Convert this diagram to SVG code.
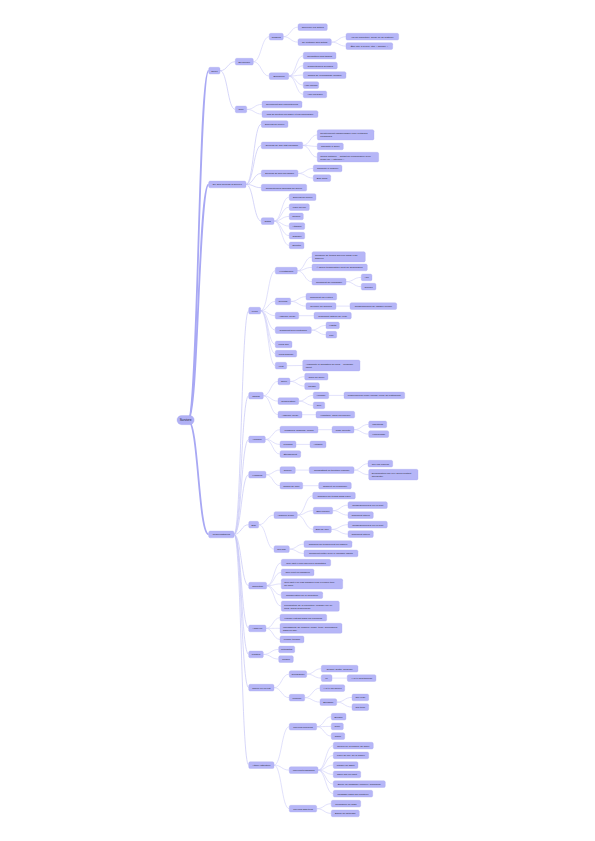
<svg xmlns="http://www.w3.org/2000/svg" width="595" height="841" viewBox="0 0 595 841">
<style>
.n rect{fill:#b6b6f7;stroke:#a2a2ee;stroke-width:.3}
.n text{font-family:"Liberation Sans",Arial,sans-serif;font-size:2.5px;fill:#1e1e2e;text-anchor:middle}
.n text.m{text-anchor:start}
#root rect{fill:#b0b0f5}
#root text{font-size:3.2px}
.l path{fill:none;stroke:#cdcdf8;stroke-width:.6}
.l path.t0{stroke:#a8a8f4;stroke-width:1.8}
.l path.t1{stroke:#c6c6f7;stroke-width:.7}
</style>
<rect width="595" height="841" fill="#ffffff"/>
<g id="connectors" class="l">
<path class="t0" d="M188 420.3C198.4 420.3 198.4 70.7 208.7 70.7"/>
<path class="t0" d="M188 420.3C198.4 420.3 198.4 184.5 208.7 184.5"/>
<path class="t0" d="M188 420.3C198.4 420.3 198.4 534.5 208.7 534.5"/>
<path class="t1" d="M220 70.7C227.6 70.7 227.6 61.7 235.3 61.7"/>
<path class="t1" d="M220 70.7C227.6 70.7 227.6 109.4 235.3 109.4"/>
<path d="M253.3 61.7C261.3 61.7 261.3 36.7 269.3 36.7"/>
<path d="M253.3 61.7C261.3 61.7 261.3 76.1 269.3 76.1"/>
<path d="M283.3 36.7C290.6 36.7 290.6 27.1 298 27.1"/>
<path d="M283.3 36.7C290.6 36.7 290.6 42.1 298 42.1"/>
<path d="M331.3 42.1C338.6 42.1 338.6 36.7 346 36.7"/>
<path d="M331.3 42.1C338.6 42.1 338.6 46.1 346 46.1"/>
<path d="M288.7 76.1C296 76.1 296 55.7 303.3 55.7"/>
<path d="M288.7 76.1C296 76.1 296 65.7 303.3 65.7"/>
<path d="M288.7 76.1C296 76.1 296 75.1 303.3 75.1"/>
<path d="M288.7 76.1C296 76.1 296 85.1 303.3 85.1"/>
<path d="M288.7 76.1C296 76.1 296 94.4 303.3 94.4"/>
<path d="M246.7 109.4C254.3 109.4 254.3 104.4 262 104.4"/>
<path d="M246.7 109.4C254.3 109.4 254.3 114.1 262 114.1"/>
<path class="t1" d="M246 184.4C253.6 184.4 253.6 124.1 261.3 124.1"/>
<path class="t1" d="M246 184.4C253.6 184.4 253.6 145.4 261.3 145.4"/>
<path class="t1" d="M246 184.4C253.6 184.4 253.6 173.4 261.3 173.4"/>
<path class="t1" d="M246 184.4C253.6 184.4 253.6 187.7 261.3 187.7"/>
<path class="t1" d="M246 184.4C253.6 184.4 253.6 221.1 261.3 221.1"/>
<path d="M302.7 145.4C310 145.4 310 134.9 317.3 134.9"/>
<path d="M302.7 145.4C310 145.4 310 146.4 317.3 146.4"/>
<path d="M302.7 145.4C310 145.4 310 157.2 317.3 157.2"/>
<path d="M298 173.4C305.6 173.4 305.6 168.4 313.3 168.4"/>
<path d="M298 173.4C305.6 173.4 305.6 178.1 313.3 178.1"/>
<path d="M274 221.1C281.6 221.1 281.6 197.1 289.3 197.1"/>
<path d="M274 221.1C281.6 221.1 281.6 207.1 289.3 207.1"/>
<path d="M274 221.1C281.6 221.1 281.6 216.4 289.3 216.4"/>
<path d="M274 221.1C281.6 221.1 281.6 226.1 289.3 226.1"/>
<path d="M274 221.1C281.6 221.1 281.6 235.7 289.3 235.7"/>
<path d="M274 221.1C281.6 221.1 281.6 245.4 289.3 245.4"/>
<path class="t1" d="M234 534.4C241.3 534.4 241.3 310.7 248.7 310.7"/>
<path class="t1" d="M234 534.4C241.3 534.4 241.3 395.7 248.7 395.7"/>
<path class="t1" d="M234 534.4C241.3 534.4 241.3 439.4 248.7 439.4"/>
<path class="t1" d="M234 534.4C241.3 534.4 241.3 474.7 248.7 474.7"/>
<path class="t1" d="M234 534.4C241.3 534.4 241.3 524.7 248.7 524.7"/>
<path class="t1" d="M234 534.4C241.3 534.4 241.3 585.7 248.7 585.7"/>
<path class="t1" d="M234 534.4C241.3 534.4 241.3 628.4 248.7 628.4"/>
<path class="t1" d="M234 534.4C241.3 534.4 241.3 654.4 248.7 654.4"/>
<path class="t1" d="M234 534.4C241.3 534.4 241.3 687.7 248.7 687.7"/>
<path class="t1" d="M234 534.4C241.3 534.4 241.3 765.1 248.7 765.1"/>
<path d="M260.7 310.7C268 310.7 268 270.7 275.3 270.7"/>
<path d="M260.7 310.7C268 310.7 268 301.4 275.3 301.4"/>
<path d="M260.7 310.7C268 310.7 268 315.7 275.3 315.7"/>
<path d="M260.7 310.7C268 310.7 268 330.1 275.3 330.1"/>
<path d="M260.7 310.7C268 310.7 268 344.4 275.3 344.4"/>
<path d="M260.7 310.7C268 310.7 268 353.7 275.3 353.7"/>
<path d="M260.7 310.7C268 310.7 268 365.7 275.3 365.7"/>
<path d="M297.3 270.7C304.6 270.7 304.6 256.9 312 256.9"/>
<path d="M297.3 270.7C304.6 270.7 304.6 267.4 312 267.4"/>
<path d="M297.3 270.7C304.6 270.7 304.6 281.7 312 281.7"/>
<path d="M346 281.7C353.6 281.7 353.6 277.4 361.3 277.4"/>
<path d="M346 281.7C353.6 281.7 353.6 286.7 361.3 286.7"/>
<path d="M290.7 301.4C298.3 301.4 298.3 296.7 306 296.7"/>
<path d="M290.7 301.4C298.3 301.4 298.3 306.1 306 306.1"/>
<path d="M336 306.1L350 306.1"/>
<path d="M298.7 315.7L314 315.7"/>
<path d="M311.3 330.1C318.6 330.1 318.6 325.4 326 325.4"/>
<path d="M311.3 330.1C318.6 330.1 318.6 334.7 326 334.7"/>
<path d="M286.7 365.7L302.7 365.5"/>
<path d="M263.3 395.7C270.6 395.7 270.6 381.4 278 381.4"/>
<path d="M263.3 395.7C270.6 395.7 270.6 401.1 278 401.1"/>
<path d="M263.3 395.7C270.6 395.7 270.6 414.7 278 414.7"/>
<path d="M290 381.4C297.3 381.4 297.3 376.7 304.7 376.7"/>
<path d="M290 381.4C297.3 381.4 297.3 386.1 304.7 386.1"/>
<path d="M298.7 401.1C306 401.1 306 395.4 313.3 395.4"/>
<path d="M298.7 401.1C306 401.1 306 405.4 313.3 405.4"/>
<path d="M328.7 395.4L344 395.4"/>
<path d="M302 414.7L316 414.7"/>
<path d="M265.3 439.4C272.6 439.4 272.6 429.7 280 429.7"/>
<path d="M265.3 439.4C272.6 439.4 272.6 444.4 280 444.4"/>
<path d="M265.3 439.4C272.6 439.4 272.6 454.1 280 454.1"/>
<path d="M318 429.7L332 429.7"/>
<path d="M354 429.7C361.3 429.7 361.3 424.4 368.7 424.4"/>
<path d="M354 429.7C361.3 429.7 361.3 434.1 368.7 434.1"/>
<path d="M296 444.4L310 444.4"/>
<path d="M266 474.7C273 474.7 273 470.1 280 470.1"/>
<path d="M266 474.7C273 474.7 273 485.7 280 485.7"/>
<path d="M295.3 470.1L309.3 470.1"/>
<path d="M354 470.1C361 470.1 361 463.7 368 463.7"/>
<path d="M354 470.1C361 470.1 361 474.7 368.7 474.7"/>
<path d="M302.7 485.7L318.7 485.7"/>
<path d="M258.7 524.7C266.3 524.7 266.3 515.1 274 515.1"/>
<path d="M258.7 524.7C266.3 524.7 266.3 549.1 274 549.1"/>
<path d="M297.3 515.1C305 515.1 305 495.7 312.7 495.7"/>
<path d="M297.3 515.1C305 515.1 305 510.7 313.3 510.7"/>
<path d="M297.3 515.1C305 515.1 305 529.4 313.3 529.4"/>
<path d="M332.7 510.7C340.3 510.7 340.3 505.1 348 505.1"/>
<path d="M332.7 510.7C340.3 510.7 340.3 515.1 348 515.1"/>
<path d="M331.3 529.4C339.6 529.4 339.6 524.7 348 524.7"/>
<path d="M331.3 529.4C339.6 529.4 339.6 534.1 348 534.1"/>
<path d="M289.3 549.1C296.6 549.1 296.6 544.1 304 544.1"/>
<path d="M289.3 549.1C296.6 549.1 296.6 553.4 304 553.4"/>
<path d="M266.7 585.7C274 585.7 274 562.7 281.3 562.7"/>
<path d="M266.7 585.7C274 585.7 274 572.4 281.3 572.4"/>
<path d="M266.7 585.7C274 585.7 274 583.9 281.3 583.9"/>
<path d="M266.7 585.7C274 585.7 274 595.1 281.3 595.1"/>
<path d="M266.7 585.7C274 585.7 274 606.2 281.3 606.2"/>
<path d="M266 628.4C273 628.4 273 617.7 280 617.7"/>
<path d="M266 628.4C273 628.4 273 628.3 280 628.3"/>
<path d="M266 628.4C273 628.4 273 639.4 280 639.4"/>
<path d="M263.3 654.4C271 654.4 271 649.4 278.7 649.4"/>
<path d="M263.3 654.4C271 654.4 271 659.1 278.7 659.1"/>
<path d="M274 687.7C281.6 687.7 281.6 674.1 289.3 674.1"/>
<path d="M274 687.7C281.6 687.7 281.6 697.7 289.3 697.7"/>
<path d="M306.7 674.1C314 674.1 314 668.7 321.3 668.7"/>
<path d="M306.7 674.1C314 674.1 314 678.1 321.3 678.1"/>
<path d="M332 678.1L347.3 678.1"/>
<path d="M304.7 697.7C312.3 697.7 312.3 688.1 320 688.1"/>
<path d="M304.7 697.7C312.3 697.7 312.3 702.1 320 702.1"/>
<path d="M336.7 702.1C344.3 702.1 344.3 697.4 352 697.4"/>
<path d="M336.7 702.1C344.3 702.1 344.3 707.1 352 707.1"/>
<path d="M274 765.1C281.6 765.1 281.6 726.7 289.3 726.7"/>
<path d="M274 765.1C281.6 765.1 281.6 770.1 289.3 770.1"/>
<path d="M274 765.1C281.6 765.1 281.6 808.7 289.3 808.7"/>
<path d="M316.7 726.7C324 726.7 324 716.7 331.3 716.7"/>
<path d="M316.7 726.7C324 726.7 324 726.4 331.3 726.4"/>
<path d="M316.7 726.7C324 726.7 324 736.1 331.3 736.1"/>
<path d="M318 770.1C325.6 770.1 325.6 745.7 333.3 745.7"/>
<path d="M318 770.1C325.6 770.1 325.6 755.4 333.3 755.4"/>
<path d="M318 770.1C325.6 770.1 325.6 765.1 333.3 765.1"/>
<path d="M318 770.1C325.6 770.1 325.6 774.4 333.3 774.4"/>
<path d="M318 770.1C325.6 770.1 325.6 784.1 333.3 784.1"/>
<path d="M318 770.1C325.6 770.1 325.6 793.7 333.3 793.7"/>
<path d="M316.7 808.7C324 808.7 324 803.7 331.3 803.7"/>
<path d="M316.7 808.7C324 808.7 324 813.4 331.3 813.4"/>
</g>
<g id="root" class="n"><rect x="177" y="415.5" width="17.2" height="9.2" rx="4.6"/><text x="185.6" y="421.3">Survivre</text></g>
<g id="n-seulq" class="n"><rect x="208.7" y="67.3" width="11.3" height="6.8" rx="1.5"/><text x="214.35" y="71.6">Seul?</text></g>
<g id="n-dep" class="n"><rect x="208.7" y="181" width="37.3" height="6.8" rx="1.5"/><text x="227.35" y="185.3">De quoi dépend la survie?</text></g>
<g id="n-prob" class="n"><rect x="208.7" y="531" width="25.3" height="6.8" rx="1.5"/><text x="221.35" y="535.3">Problématiques</text></g>
<g id="n-groupe" class="n"><rect x="235.3" y="58.3" width="18" height="6.8" rx="1.5"/><text x="244.3" y="62.6">En groupe</text></g>
<g id="n-seul" class="n"><rect x="235.3" y="106" width="11.4" height="6.8" rx="1.5"/><text x="241" y="110.3">Seul</text></g>
<g id="n-risques" class="n"><rect x="269.3" y="33.3" width="14" height="6.8" rx="1.5"/><text x="276.3" y="37.6">Risques</text></g>
<g id="n-benef" class="n"><rect x="269.3" y="72.7" width="19.4" height="6.8" rx="1.5"/><text x="279" y="77">Bénéfices</text></g>
<g id="n-surv" class="n"><rect x="298" y="23.7" width="29.3" height="6.8" rx="1.5"/><text x="312.65" y="28">Surveiller les autres</text></g>
<g id="n-prot" class="n"><rect x="298" y="38.7" width="33.3" height="6.8" rx="1.5"/><text x="314.65" y="43">Se protéger des autres</text></g>
<g id="n-vol" class="n"><rect x="346" y="33.3" width="52.7" height="6.8" rx="1.5"/><text x="372.35" y="37.6">Vol de nourriture, d'eau ou de matériel</text></g>
<g id="n-jete" class="n"><rect x="346" y="42.7" width="46.7" height="6.8" rx="1.5"/><text x="369.35" y="47">Être jeté à la mer, être « sacrifié »</text></g>
<g id="n-repart" class="n"><rect x="303.3" y="52.3" width="32.7" height="6.8" rx="1.5"/><text x="319.65" y="56.6">Répartition des tâches</text></g>
<g id="n-compdiv" class="n"><rect x="303.3" y="62.3" width="34" height="6.8" rx="1.5"/><text x="320.3" y="66.6">Compétences diverses</text></g>
<g id="n-repos" class="n"><rect x="303.3" y="71.7" width="42.7" height="6.8" rx="1.5"/><text x="324.65" y="76">Temps de repos/garde nombre</text></g>
<g id="n-morale" class="n"><rect x="303.3" y="81.7" width="15.4" height="6.8" rx="1.5"/><text x="311" y="86">Aide morale</text></g>
<g id="n-physique" class="n"><rect x="303.3" y="91" width="23.4" height="6.8" rx="1.5"/><text x="315" y="95.3">Aide physique</text></g>
<g id="n-seulement" class="n"><rect x="262" y="101" width="40" height="6.8" rx="1.5"/><text x="282" y="105.3">Seulement ses compétences</text></g>
<g id="n-soutien" class="n"><rect x="262" y="110.7" width="56" height="6.8" rx="1.5"/><text x="290" y="115">Pas de soutien physique et psychologique</text></g>
<g id="n-milieu" class="n"><rect x="261.3" y="120.7" width="26.7" height="6.8" rx="1.5"/><text x="274.65" y="125">Dépend du milieu</text></g>
<g id="n-etat" class="n"><rect x="261.3" y="142" width="41.4" height="6.8" rx="1.5"/><text x="282" y="146.3">Dépend de son état physique</text></g>
<g id="n-psy" class="n"><rect x="261.3" y="170" width="36.7" height="6.8" rx="1.5"/><text x="279.65" y="174.3">Dépend de son psychique</text></g>
<g id="n-apprises" class="n"><rect x="261.3" y="184.3" width="45.4" height="6.8" rx="1.5"/><text x="284" y="188.6">Compétences apprises de survie</text></g>
<g id="n-outils" class="n"><rect x="261.3" y="217.7" width="12.7" height="6.8" rx="1.5"/><text x="267.65" y="222">Outils</text></g>
<g id="n-relat" class="n"><rect x="317.3" y="129.7" width="56.7" height="10.3" rx="1.5"/><text class="m" x="320.3" y="134.25">Relativement indispensable pour certaines</text><text class="m" x="320.3" y="137.25">personnes</text></g>
<g id="n-durer" class="n"><rect x="317.3" y="143" width="26" height="6.8" rx="1.5"/><text x="330.3" y="147.3">Capacité à durer</text></g>
<g id="n-corps" class="n"><rect x="317.3" y="152.3" width="61.4" height="9.7" rx="1.5"/><text class="m" x="320.3" y="156.55">Corps entraîné = autant de performance avec</text><text class="m" x="320.3" y="159.55">mode de « rationnel »</text></g>
<g id="n-endurer" class="n"><rect x="313.3" y="165" width="28.7" height="6.8" rx="1.5"/><text x="327.65" y="169.3">Capacité à endurer</text></g>
<g id="n-bonsens" class="n"><rect x="313.3" y="174.7" width="17.4" height="6.8" rx="1.5"/><text x="322" y="179">Bon sens</text></g>
<g id="n-o-milieu" class="n"><rect x="289.3" y="193.7" width="26.7" height="6.8" rx="1.5"/><text x="302.65" y="198">Dépend du milieu</text></g>
<g id="n-o-feu" class="n"><rect x="289.3" y="203.7" width="20" height="6.8" rx="1.5"/><text x="299.3" y="208">Faire du feu</text></g>
<g id="n-o-couper" class="n"><rect x="289.3" y="213" width="14" height="6.8" rx="1.5"/><text x="296.3" y="217.3">Couper</text></g>
<g id="n-o-attacher" class="n"><rect x="289.3" y="222.7" width="15.4" height="6.8" rx="1.5"/><text x="297" y="227">Attacher</text></g>
<g id="n-o-signaler" class="n"><rect x="289.3" y="232.3" width="15.4" height="6.8" rx="1.5"/><text x="297" y="236.6">Signaler</text></g>
<g id="n-o-orienter" class="n"><rect x="289.3" y="242" width="14.7" height="6.8" rx="1.5"/><text x="296.65" y="246.3">Orienter</text></g>
<g id="n-froid" class="n"><rect x="248.7" y="307.3" width="12" height="6.8" rx="1.5"/><text x="254.7" y="311.6">Froid</text></g>
<g id="n-chaud" class="n"><rect x="248.7" y="392.3" width="14.6" height="6.8" rx="1.5"/><text x="256" y="396.6">Chaud</text></g>
<g id="n-animaux" class="n"><rect x="248.7" y="436" width="16.6" height="6.8" rx="1.5"/><text x="257" y="440.3">Animaux</text></g>
<g id="n-hommes" class="n"><rect x="248.7" y="471.3" width="17.3" height="6.8" rx="1.5"/><text x="257.35" y="475.6">Hommes</text></g>
<g id="n-eau" class="n"><rect x="248.7" y="521.3" width="10" height="6.8" rx="1.5"/><text x="253.7" y="525.6">Eau</text></g>
<g id="n-nourr" class="n"><rect x="248.7" y="582.3" width="18" height="6.8" rx="1.5"/><text x="257.7" y="586.6">Nourriture</text></g>
<g id="n-asph" class="n"><rect x="248.7" y="625" width="17.3" height="6.8" rx="1.5"/><text x="257.35" y="629.3">Asphyxie</text></g>
<g id="n-plantes" class="n"><rect x="248.7" y="651" width="14.6" height="6.8" rx="1.5"/><text x="256" y="655.3">Plantes</text></g>
<g id="n-savoir" class="n"><rect x="248.7" y="684.3" width="25.3" height="6.8" rx="1.5"/><text x="261.35" y="688.6">Savoir où on est</text></g>
<g id="n-attirer" class="n"><rect x="248.7" y="761.7" width="25.3" height="6.8" rx="1.5"/><text x="261.35" y="766">Attirer l'attention</text></g>
<g id="n-hypo" class="n"><rect x="275.3" y="267.3" width="22" height="6.8" rx="1.5"/><text x="286.3" y="271.6">Hypothermie</text></g>
<g id="n-gelures" class="n"><rect x="275.3" y="298" width="15.4" height="6.8" rx="1.5"/><text x="283" y="302.3">Gelures</text></g>
<g id="n-f-abs" class="n"><rect x="275.3" y="312.3" width="23.4" height="6.8" rx="1.5"/><text x="287" y="316.6">Absence d'eau</text></g>
<g id="n-proteger" class="n"><rect x="275.3" y="326.7" width="36" height="6.8" rx="1.5"/><text x="293.3" y="331">Comment s'en protéger?</text></g>
<g id="n-sec" class="n"><rect x="275.3" y="341" width="16.7" height="6.8" rx="1.5"/><text x="283.65" y="345.3">Froid sec</text></g>
<g id="n-humide" class="n"><rect x="275.3" y="350.3" width="21.4" height="6.8" rx="1.5"/><text x="286" y="354.6">Froid humide</text></g>
<g id="n-vent" class="n"><rect x="275.3" y="362.3" width="11.4" height="6.8" rx="1.5"/><text x="281" y="366.6">Vent</text></g>
<g id="n-combien-glacee" class="n"><rect x="312" y="251.7" width="53.3" height="10.3" rx="1.5"/><text class="m" x="315" y="256.25">Combien de temps survivre dans l'eau</text><text class="m" x="315" y="259.25">glacée?</text></g>
<g id="n-temp" class="n"><rect x="312" y="264" width="55.3" height="6.8" rx="1.5"/><text x="339.65" y="268.3">À quelle température peut-on descendre?</text></g>
<g id="n-rechauffer" class="n"><rect x="312" y="278.3" width="34" height="6.8" rx="1.5"/><text x="329" y="282.6">Comment se réchauffer</text></g>
<g id="n-abri" class="n"><rect x="361.3" y="274" width="10.7" height="6.8" rx="1.5"/><text x="366.65" y="278.3">Abri</text></g>
<g id="n-groupe2" class="n"><rect x="361.3" y="283.3" width="14.7" height="6.8" rx="1.5"/><text x="368.65" y="287.6">Groupe</text></g>
<g id="n-eviter" class="n"><rect x="306" y="293.3" width="30.7" height="6.8" rx="1.5"/><text x="321.35" y="297.6">Comment les éviter?</text></g>
<g id="n-niveaux" class="n"><rect x="306" y="302.7" width="30" height="6.8" rx="1.5"/><text x="321" y="307">Niveaux de gelures</text></g>
<g id="n-consniv" class="n"><rect x="350" y="302.7" width="46.7" height="6.8" rx="1.5"/><text x="373.35" y="307">Conséquences de chaque niveau</text></g>
<g id="n-obtenir" class="n"><rect x="314" y="312.3" width="37.3" height="6.8" rx="1.5"/><text x="332.65" y="316.6">Comment obtenir de l'eau</text></g>
<g id="n-habits" class="n"><rect x="326" y="322" width="13.3" height="6.8" rx="1.5"/><text x="332.65" y="326.3">Habits</text></g>
<g id="n-feu" class="n"><rect x="326" y="331.3" width="10.7" height="6.8" rx="1.5"/><text x="331.35" y="335.6">Feu</text></g>
<g id="n-windchill" class="n"><rect x="302.7" y="360" width="57.3" height="11" rx="1.5"/><text class="m" x="305.7" y="364.9">Augmente la sensation de froid = Windchill</text><text class="m" x="305.7" y="367.9">effect</text></g>
<g id="n-soleil" class="n"><rect x="278" y="378" width="12" height="6.8" rx="1.5"/><text x="284" y="382.3">Soleil</text></g>
<g id="n-temperature" class="n"><rect x="278" y="397.7" width="20.7" height="6.8" rx="1.5"/><text x="288.35" y="402">Température</text></g>
<g id="n-c-abs" class="n"><rect x="278" y="411.3" width="24" height="6.8" rx="1.5"/><text x="290" y="415.6">Absence d'eau</text></g>
<g id="n-coup" class="n"><rect x="304.7" y="373.3" width="23.3" height="6.8" rx="1.5"/><text x="316.35" y="377.6">Coup de soleil</text></g>
<g id="n-mirage" class="n"><rect x="304.7" y="382.7" width="14.6" height="6.8" rx="1.5"/><text x="312" y="387">Mirage</text></g>
<g id="n-t-humide" class="n"><rect x="313.3" y="392" width="15.4" height="6.8" rx="1.5"/><text x="321" y="396.3">Humide</text></g>
<g id="n-t-sec" class="n"><rect x="313.3" y="402" width="11.4" height="6.8" rx="1.5"/><text x="319" y="406.3">Sec</text></g>
<g id="n-peau" class="n"><rect x="344" y="392" width="60.7" height="6.8" rx="1.5"/><text x="374.35" y="396.3">Problèmes de peau (pieds) (zone de frottement)</text></g>
<g id="n-vegetaux" class="n"><rect x="316" y="411.3" width="38.7" height="6.8" rx="1.5"/><text x="335.35" y="415.6">Végétaux, sous les cailloux</text></g>
<g id="n-morsures" class="n"><rect x="280" y="426.3" width="38" height="6.8" rx="1.5"/><text x="299" y="430.6">Morsures, griffures, coups</text></g>
<g id="n-poisons" class="n"><rect x="280" y="441" width="16" height="6.8" rx="1.5"/><text x="288" y="445.3">Poisons</text></g>
<g id="n-etouff" class="n"><rect x="280" y="450.7" width="20.7" height="6.8" rx="1.5"/><text x="290.35" y="455">Étouffement</text></g>
<g id="n-plaie" class="n"><rect x="332" y="426.3" width="22" height="6.8" rx="1.5"/><text x="343" y="430.6">Plaie ouverte</text></g>
<g id="n-infect" class="n"><rect x="368.7" y="421" width="18" height="6.8" rx="1.5"/><text x="377.7" y="425.3">Infections</text></g>
<g id="n-hemo" class="n"><rect x="368.7" y="430.7" width="20" height="6.8" rx="1.5"/><text x="378.7" y="435">Hémorragie</text></g>
<g id="n-antidote" class="n"><rect x="310" y="441" width="16" height="6.8" rx="1.5"/><text x="318" y="445.3">Antidote</text></g>
<g id="n-guerre" class="n"><rect x="280" y="466.7" width="15.3" height="6.8" rx="1.5"/><text x="287.65" y="471">Guerre</text></g>
<g id="n-paix" class="n"><rect x="280" y="482.3" width="22.7" height="6.8" rx="1.5"/><text x="291.35" y="486.6">Temps de Paix</text></g>
<g id="n-combattant" class="n"><rect x="309.3" y="466.7" width="44.7" height="6.8" rx="1.5"/><text x="331.65" y="471">Combattant en territoire ennemi</text></g>
<g id="n-tue" class="n"><rect x="368" y="460.3" width="24.7" height="6.8" rx="1.5"/><text x="380.35" y="464.6">Tué par ennemi</text></g>
<g id="n-denon" class="n"><rect x="368.7" y="469.3" width="49.3" height="10.7" rx="1.5"/><text class="m" x="371.7" y="474.05">Dénonciation par civil après contact</text><text class="m" x="371.7" y="477.05">accidentel</text></g>
<g id="n-suspect" class="n"><rect x="318.7" y="482.3" width="32.6" height="6.8" rx="1.5"/><text x="335" y="486.6">Suspect ou prisonnier</text></g>
<g id="n-e-abs" class="n"><rect x="274" y="511.7" width="23.3" height="6.8" rx="1.5"/><text x="285.65" y="516">Absence d'eau</text></g>
<g id="n-noyade" class="n"><rect x="274" y="545.7" width="15.3" height="6.8" rx="1.5"/><text x="281.65" y="550">Noyade</text></g>
<g id="n-sanseau" class="n"><rect x="312.7" y="492.3" width="42.6" height="6.8" rx="1.5"/><text x="334" y="496.6">Combien de temps sans eau?</text></g>
<g id="n-polluee" class="n"><rect x="313.3" y="507.3" width="19.4" height="6.8" rx="1.5"/><text x="323" y="511.6">Eau polluée</text></g>
<g id="n-mer" class="n"><rect x="313.3" y="526" width="18" height="6.8" rx="1.5"/><text x="322.3" y="530.3">Eau de mer</text></g>
<g id="n-cons1" class="n"><rect x="348" y="501.7" width="39.3" height="6.8" rx="1.5"/><text x="367.65" y="506">Conséquences si on en boit</text></g>
<g id="n-filt1" class="n"><rect x="348" y="511.7" width="25.3" height="6.8" rx="1.5"/><text x="360.65" y="516">Comment filtrer?</text></g>
<g id="n-cons2" class="n"><rect x="348" y="521.3" width="39.3" height="6.8" rx="1.5"/><text x="367.65" y="525.6">Conséquences si on en boit</text></g>
<g id="n-filt2" class="n"><rect x="348" y="530.7" width="25.3" height="6.8" rx="1.5"/><text x="360.65" y="535">Comment filtrer?</text></g>
<g id="n-nager" class="n"><rect x="304" y="540.7" width="48" height="6.8" rx="1.5"/><text x="328" y="545">Combien de temps peut-on nager?</text></g>
<g id="n-flotter" class="n"><rect x="304" y="550" width="54" height="6.8" rx="1.5"/><text x="331" y="554.3">Comment flotter avec le moindre effort?</text></g>
<g id="n-quantites" class="n"><rect x="281.3" y="559.3" width="49.4" height="6.8" rx="1.5"/><text x="306" y="563.6">Que faut-il pour survivre? Quantités</text></g>
<g id="n-manger" class="n"><rect x="281.3" y="569" width="32.7" height="6.8" rx="1.5"/><text x="297.65" y="573.3">Que peut-on manger?</text></g>
<g id="n-pasmanger" class="n"><rect x="281.3" y="578.7" width="61.4" height="10.3" rx="1.5"/><text class="m" x="284.3" y="583.25">Que faut-il ne pas manger? Par exemple trop</text><text class="m" x="284.3" y="586.25">de lapin</text></g>
<g id="n-conserv" class="n"><rect x="281.3" y="591.7" width="41.4" height="6.8" rx="1.5"/><text x="302" y="596">Conservation de la nourriture</text></g>
<g id="n-prepa" class="n"><rect x="281.3" y="601" width="58" height="10.3" rx="1.5"/><text class="m" x="284.3" y="605.55">Préparation de la nourriture: manger cru ou</text><text class="m" x="284.3" y="608.55">froid, quels problèmes?</text></g>
<g id="n-liquide" class="n"><rect x="280" y="614.3" width="46.7" height="6.8" rx="1.5"/><text x="303.35" y="618.6">Liquide entrant dans les poumons</text></g>
<g id="n-respirer" class="n"><rect x="280" y="623.3" width="62" height="10" rx="1.5"/><text class="m" x="283" y="627.7">Impossibilité de respirer: neige, terre, décombres</text><text class="m" x="283" y="630.7">dans un abri</text></g>
<g id="n-fumee" class="n"><rect x="280" y="636" width="24" height="6.8" rx="1.5"/><text x="292" y="640.3">Fumée toxique</text></g>
<g id="n-urtic" class="n"><rect x="278.7" y="646" width="16" height="6.8" rx="1.5"/><text x="286.7" y="650.3">Urticantes</text></g>
<g id="n-poison" class="n"><rect x="278.7" y="655.7" width="14.6" height="6.8" rx="1.5"/><text x="286" y="660">Poison</text></g>
<g id="n-geo" class="n"><rect x="289.3" y="670.7" width="17.4" height="6.8" rx="1.5"/><text x="298" y="675">Géographie</text></g>
<g id="n-lumiere" class="n"><rect x="289.3" y="694.3" width="15.4" height="6.8" rx="1.5"/><text x="297" y="698.6">Lumière</text></g>
<g id="n-desert" class="n"><rect x="321.3" y="665.3" width="36.7" height="6.8" rx="1.5"/><text x="339.65" y="669.6">Désert, grotte, sous-sol</text></g>
<g id="n-ile" class="n"><rect x="321.3" y="674.7" width="10.7" height="6.8" rx="1.5"/><text x="326.65" y="679">Île</text></g>
<g id="n-traces" class="n"><rect x="347.3" y="674.7" width="28.7" height="6.8" rx="1.5"/><text x="361.65" y="679">Y a-t-il des traces?</text></g>
<g id="n-dusoleil" class="n"><rect x="320" y="684.7" width="24.7" height="6.8" rx="1.5"/><text x="332.35" y="689">Y a-t-il du soleil?</text></g>
<g id="n-boussole" class="n"><rect x="320" y="698.7" width="16.7" height="6.8" rx="1.5"/><text x="328.35" y="703">Boussole</text></g>
<g id="n-surleau" class="n"><rect x="352" y="694" width="16.7" height="6.8" rx="1.5"/><text x="360.35" y="698.3">Sur l'eau</text></g>
<g id="n-surterre" class="n"><rect x="352" y="703.7" width="16.7" height="6.8" rx="1.5"/><text x="360.35" y="708">Sur terre</text></g>
<g id="n-corporels" class="n"><rect x="289.3" y="723.3" width="27.4" height="6.8" rx="1.5"/><text x="303" y="727.6">Moyens corporels</text></g>
<g id="n-techniques" class="n"><rect x="289.3" y="766.7" width="28.7" height="6.8" rx="1.5"/><text x="303.65" y="771">Moyens techniques</text></g>
<g id="n-hightech" class="n"><rect x="289.3" y="805.3" width="27.4" height="6.8" rx="1.5"/><text x="303" y="809.6">Moyens high tech</text></g>
<g id="n-bouger" class="n"><rect x="331.3" y="713.3" width="14.7" height="6.8" rx="1.5"/><text x="338.65" y="717.6">Bouger</text></g>
<g id="n-crier" class="n"><rect x="331.3" y="723" width="12" height="6.8" rx="1.5"/><text x="337.3" y="727.3">Crier</text></g>
<g id="n-siffler" class="n"><rect x="331.3" y="732.7" width="13.4" height="6.8" rx="1.5"/><text x="338" y="737">Siffler</text></g>
<g id="n-renvoyer" class="n"><rect x="333.3" y="742.3" width="40" height="6.8" rx="1.5"/><text x="353.3" y="746.6">Renvoyer la lumière du soleil</text></g>
<g id="n-fumee2" class="n"><rect x="333.3" y="752" width="35.4" height="6.8" rx="1.5"/><text x="351" y="756.3">Faire du feu, de la fumée</text></g>
<g id="n-sifflet" class="n"><rect x="333.3" y="761.7" width="24.7" height="6.8" rx="1.5"/><text x="345.65" y="766">Utiliser un sifflet</text></g>
<g id="n-taper" class="n"><rect x="333.3" y="771" width="27.4" height="6.8" rx="1.5"/><text x="347" y="775.3">Taper sur un objet</text></g>
<g id="n-ecrire" class="n"><rect x="333.3" y="780.7" width="52" height="6.8" rx="1.5"/><text x="359.3" y="785">Écrire un message (cailloux, branches)</text></g>
<g id="n-bouteille" class="n"><rect x="333.3" y="790.3" width="39.4" height="6.8" rx="1.5"/><text x="353" y="794.6">Message dans une bouteille</text></g>
<g id="n-radio" class="n"><rect x="331.3" y="800.3" width="29.4" height="6.8" rx="1.5"/><text x="346" y="804.6">Téléphone ou radio</text></g>
<g id="n-balise" class="n"><rect x="331.3" y="810" width="28" height="6.8" rx="1.5"/><text x="345.3" y="814.3">Balise de détresse</text></g>
</svg>
